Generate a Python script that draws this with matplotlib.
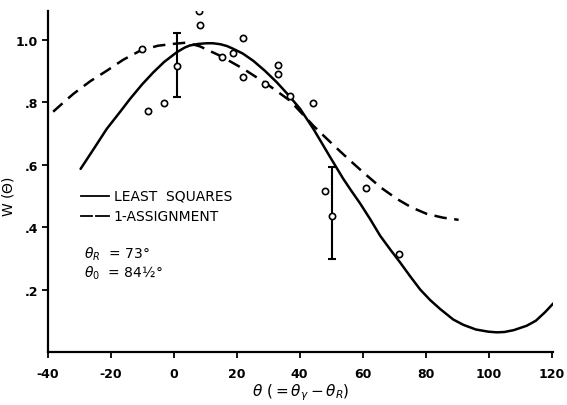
import matplotlib.pyplot as plt

# measured points (theta in degrees, W)
pt_theta = [-10.1, -8.2, -2.9, 1.0, 8.2, 8.3, 15.3, 18.8, 22.1, 22.0, 29.0, 33.2, 33.1,
            37.0, 44.2, 48.1, 50.4, 61.2, 71.7]
pt_w = [0.970, 0.770, 0.798, 0.914, 1.091, 1.045, 0.943, 0.957, 1.006, 0.881, 0.859, 0.917, 0.891,
        0.820, 0.797, 0.514, 0.434, 0.524, 0.314]

# error bars
err_theta = [1.0, 50.4]
err_w = [0.914, 0.434]
err_lo = [0.816, 0.298]
err_hi = [1.021, 0.593]

# least squares curve
ls_theta = [-29.5, -25, -21.2, -17, -13.8, -10, -6.4, -3, 1.0, 3.5, 5.2, 8, 10.5, 12.5, 14.8,
            17, 19, 22, 25.3, 29, 32.8, 36.5, 40.2, 44.4, 47, 49.7, 53.9, 56.5, 59.2, 62.5,
            65.6, 68.8, 71.9, 75, 78.3, 81.5, 84.6, 88.8, 92, 96, 100, 102.6, 105, 108, 112.1,
            115, 118, 120.6]
ls_w = [0.586, 0.655, 0.714, 0.768, 0.810, 0.856, 0.895, 0.928, 0.959, 0.974, 0.981, 0.986,
        0.988, 0.988, 0.985, 0.979, 0.970, 0.955, 0.932, 0.900, 0.863, 0.822, 0.778, 0.714,
        0.670, 0.624, 0.554, 0.515, 0.476, 0.424, 0.372, 0.328, 0.287, 0.244, 0.200, 0.166,
        0.138, 0.104, 0.087, 0.072, 0.065, 0.063, 0.064, 0.070, 0.084, 0.100, 0.128, 0.156]

# 1-assignment curve
as_theta = [-38.2, -35, -31.8, -26.5, -21.2, -16, -10.6, -5, -0.1, 4.2, 8.4, 14.8, 22.2,
            29.6, 37.0, 44.4, 48.5, 52.9, 57, 61.0, 66, 70.9, 75.5, 80.4, 85.5, 90.5]
as_w = [0.769, 0.798, 0.826, 0.866, 0.900, 0.935, 0.964, 0.980, 0.986, 0.990, 0.978, 0.948,
        0.906, 0.858, 0.804, 0.724, 0.684, 0.642, 0.604, 0.568, 0.525, 0.490, 0.463, 0.442,
        0.430, 0.423]

xticks = [-40, -20, 0, 20, 40, 60, 80, 100, 120]
xticklabels = ['-40', '-20', '0', '20', '40', '60', '80', '100', '120']
yticks = [0.2, 0.4, 0.6, 0.8, 1.0]
yticklabels = ['.2', '.4', '.6', '.8', '1.0']

fig = plt.figure(figsize=(5.67, 4.06), dpi=100)
ax = fig.add_axes([0.0838, 0.1305, 0.8917, 0.839])

ax.plot(ls_theta, ls_w, color='black', linewidth=1.8, solid_capstyle='round', solid_joinstyle='round')
ax.plot(as_theta, as_w, color='black', linewidth=1.8, linestyle=(0, (5, 3)))

ax.errorbar(err_theta, err_w,
            yerr=[[w - lo for w, lo in zip(err_w, err_lo)], [hi - w for w, hi in zip(err_w, err_hi)]],
            fmt='none', ecolor='black', elinewidth=1.5, capsize=3, capthick=1.5)
ax.plot(pt_theta, pt_w, linestyle='none', marker='o', markersize=4.5,
        markerfacecolor='white', markeredgecolor='black', markeredgewidth=1.2)

# legend drawn by hand like the original lettering
ax.plot([-29.5, -20.5], [0.50, 0.50], color='black', linewidth=1.3)
ax.plot([-29.5, -26], [0.435, 0.435], color='black', linewidth=1.3)
ax.plot([-24.5, -20.5], [0.435, 0.435], color='black', linewidth=1.3)
ax.text(-19, 0.50, 'LEAST  SQUARES', fontsize=10, va='center', ha='left')
ax.text(-19, 0.435, '1-ASSIGNMENT', fontsize=10, va='center', ha='left')
ax.text(-28.5, 0.315, r'$\theta_R$  = 73°', fontsize=10, va='center', ha='left')
ax.text(-28.5, 0.255, r'$\theta_0$  = 84½°', fontsize=10, va='center', ha='left')

ax.set_xlim(-40, 120.5)
ax.set_ylim(0, 1.09)
ax.set_xticks(xticks)
ax.set_xticklabels(xticklabels, fontsize=9, fontweight='bold')
ax.set_yticks(yticks)
ax.set_yticklabels(yticklabels, fontsize=9, fontweight='bold')
ax.tick_params(direction='out', length=4, width=1.3, pad=3)
ax.tick_params(axis='x', pad=7)
ax.spines['top'].set_visible(False)
ax.spines['right'].set_visible(False)
ax.spines['left'].set_linewidth(1.6)
ax.spines['bottom'].set_linewidth(1.6)

ax.set_xlabel(r'$\theta\ (=\theta_\gamma - \theta_R)$', fontsize=11, labelpad=1)
ax.set_ylabel(r'W ($\Theta$)', fontsize=10)
ax.yaxis.set_label_coords(-0.062, 0.46)

fig.savefig('out.png', dpi=100)
